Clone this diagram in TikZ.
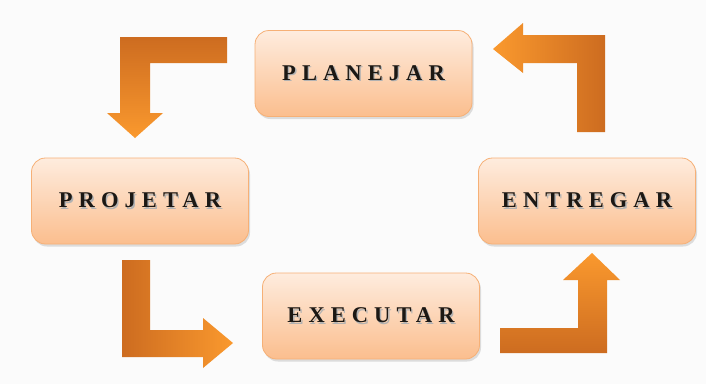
\documentclass[tikz,border=0pt]{standalone}
\usepackage{fontspec}
\setmainfont{Liberation Serif}
\usepackage{tikz}
\usetikzlibrary{
    shadows,     % For the soft drop shadow of the boxes
    positioning  % For relative placement of nodes
}

\definecolor{boxtop}{RGB}{254,236,222}
\definecolor{boxbottom}{RGB}{251,190,142}
\definecolor{boxedge}{RGB}{246,176,118}
\definecolor{arrowdark}{RGB}{205,108,32}
\definecolor{arrowlight}{RGB}{250,153,46}
\definecolor{labelink}{RGB}{28,24,20}

% letter-spaced label with a soft shadow behind it
\newcommand{\steplabel}[1]{%
    \makebox[0pt][l]{\raisebox{-1.4pt}{\hspace{1.4pt}\textcolor{black!30}{#1}}}%
    \textcolor{labelink}{#1}}

\begin{document}
\begin{tikzpicture}[
    x=1pt, y=-1pt,
    font=\fontsize{22.5}{26}\selectfont\bfseries\addfontfeature{LetterSpace=27},
    stepbox/.style={
        rectangle,
        rounded corners=14pt,
        draw=boxedge,
        line width=0.8pt,
        top color=boxtop,
        bottom color=boxbottom,
        minimum width=217pt,
        minimum height=86pt,
        drop shadow={opacity=0.25, shadow xshift=1.5pt, shadow yshift=-2.5pt}
    },
    blockarrow/.style={draw=none}
]
    % --- Background ---
    \fill[gray!3] (0,0) rectangle (706,384);
    \useasboundingbox (0,0) rectangle (706,384);

    % --- Steps of the cycle ---
    \node[stepbox] (planejar) at (363.5,73.5) {\steplabel{PLANEJAR}};
    \node[stepbox] (projetar) at (140,201) {\steplabel{PROJETAR}};
    \node[stepbox] (executar) at (371,316) {\steplabel{EXECUTAR}};
    \node[stepbox] (entregar) at (587,201) {\steplabel{ENTREGAR}};

    % --- Bent block arrows between the steps ---
    % planejar -> projetar
    \shade[blockarrow, top color=arrowdark, bottom color=arrowlight]
        (227,37) -- (120,37) -- (120,113) -- (107,113) -- (135,138)
        -- (163,113) -- (150,113) -- (150,63) -- (227,63) -- cycle;
    % projetar -> executar
    \shade[blockarrow, left color=arrowdark, right color=arrowlight]
        (122,260) -- (122,357) -- (203,357) -- (203,368) -- (233,343)
        -- (203,318) -- (203,330) -- (150,330) -- (150,260) -- cycle;
    % executar -> entregar
    \shade[blockarrow, bottom color=arrowdark, top color=arrowlight]
        (500,353) -- (607,353) -- (607,280) -- (620,280) -- (592,253)
        -- (563,280) -- (578,280) -- (578,328) -- (500,328) -- cycle;
    % entregar -> planejar
    \shade[blockarrow, right color=arrowdark, left color=arrowlight]
        (605,132) -- (605,35) -- (523,35) -- (523,23) -- (493,49)
        -- (523,73) -- (523,63) -- (577,63) -- (577,132) -- cycle;

\end{tikzpicture}
\end{document}
